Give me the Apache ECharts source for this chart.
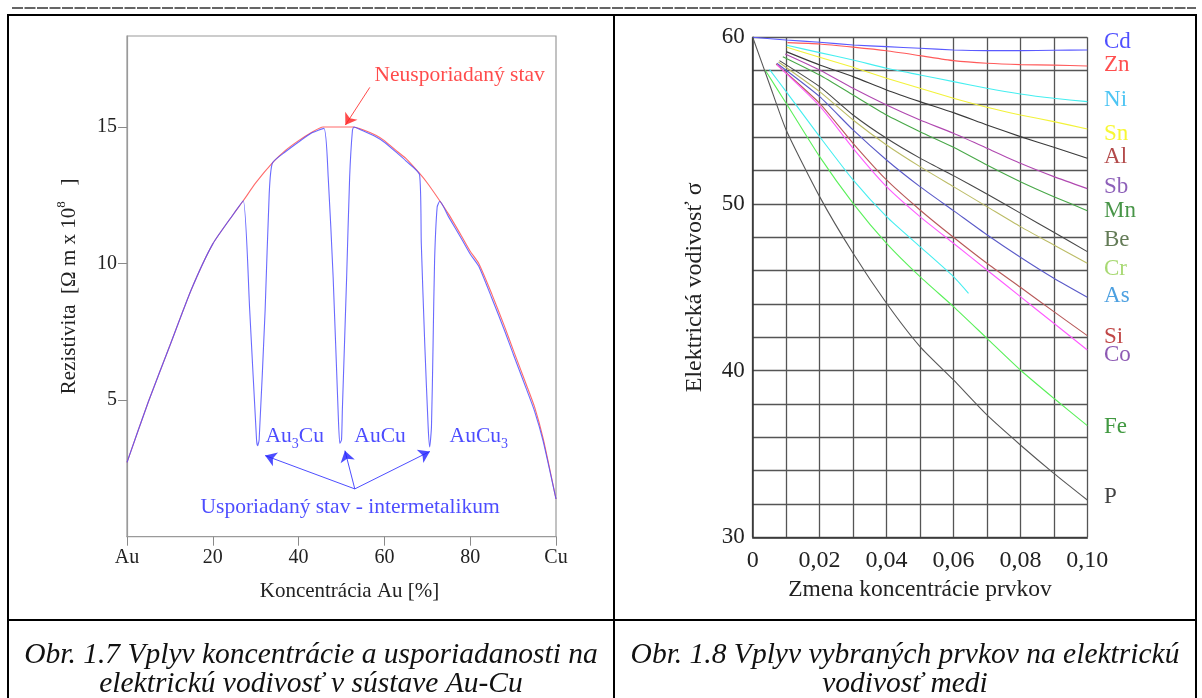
<!DOCTYPE html>
<html>
<head>
<meta charset="utf-8">
<script src="https://cdn.jsdelivr.net/npm/echarts@6/dist/echarts.min.js"></script>
<style>
  html, body { margin: 0; padding: 0; background: #fff; }
  #chart { width: 1202px; height: 698px; }
</style>
</head>
<body>
<div id="chart"></div>
<script>
// ---------- Fig. 1.7: resistivity of Au-Cu alloys ----------
// x = Au concentration [%], y = resistivity
const auCuTicks = [0, 20, 40, 60, 80, 100];
const auCuTickNames = { 0: 'Au', 100: 'Cu' };
const disordered = [
  [0, 2.72], [5, 4.95], [10, 7.0], [15, 9.05], [20, 10.72], [25, 11.85], [27.1, 12.3],
  [30, 12.95], [34, 13.7], [37, 14.15], [40, 14.5], [43, 14.8], [45.7, 15.0], [52.7, 15.0],
  [55, 14.9], [58, 14.7], [60, 14.5], [63, 14.1], [65, 13.85], [68.2, 13.3], [70, 12.95],
  [72.9, 12.3], [75, 11.8], [78, 11.0], [80, 10.45], [82, 10.0], [85, 8.9], [88, 7.7],
  [90, 6.85], [93, 5.6], [95, 4.75], [97, 3.6], [100, 1.38]
];
const ordered = [
  [0, 2.72], [5, 4.95], [10, 7.0], [15, 9.05], [20, 10.72], [25, 11.85], [27.1, 12.3],
  [28.6, 8.3], [30.2, 3.54], [30.45, 3.33], [30.8, 3.54], [32.2, 8.3], [33.15, 12.56], [33.9, 13.68],
  [37, 14.1], [40, 14.45], [43, 14.78], [45.9, 14.95],
  [46.9, 13.17], [48.05, 9.51], [49.2, 4.64], [49.6, 3.42], [50.0, 3.54], [50.2, 4.64],
  [51.2, 9.51], [51.9, 13.17], [52.55, 14.88], [52.9, 15.0],
  [55, 14.86], [58, 14.64], [60, 14.44], [63, 14.04], [65, 13.76], [68.2, 13.25],
  [68.6, 10.73], [69.4, 7.08], [70.2, 4.02], [70.56, 3.29], [70.97, 4.02], [71.35, 7.08],
  [71.7, 10.12], [72.3, 12.07], [72.9, 12.28], [75, 11.7], [78, 10.9], [80, 10.35], [82, 9.9],
  [85, 8.75], [88, 7.55], [90, 6.7], [93, 5.45], [95, 4.6], [97, 3.5], [100, 1.38]
];
// annotation texts placed in data coordinates: [x, y, text, align]
const redNotes = [[57.7, 16.9, 'Neusporiadaný stav']];
const blueNotes = [
  [32.3, 3.68, 'Au{sub|3}Cu'],
  [53.0, 3.68, 'AuCu'],
  [75.2, 3.68, 'AuCu{sub|3}'],
  [52.0, 1.06, 'Usporiadaný stav - intermetalikum', 'center']
];
// arrows: [fromX, fromY, toX, toY]
const redArrows = [[56.6, 16.45, 50.9, 15.07]];
const blueArrows = [
  [53.1, 1.75, 32.2, 2.97],
  [53.1, 1.75, 50.8, 3.15],
  [53.1, 1.75, 70.6, 3.12]
];

// ---------- Fig. 1.8: conductivity of copper vs. element content ----------
const cd = [[0, 60], [0.01, 59.84], [0.02, 59.7], [0.03, 59.54], [0.04, 59.44], [0.05, 59.34], [0.06, 59.24], [0.07, 59.2], [0.08, 59.2], [0.09, 59.22], [0.10, 59.24]];
const zn = [[0.0104, 59.68], [0.02, 59.6], [0.03, 59.41], [0.04, 59.19], [0.05, 58.9], [0.06, 58.6], [0.07, 58.44], [0.08, 58.36], [0.09, 58.33], [0.10, 58.28]];
const ni = [[0.0102, 59.52], [0.02, 59.08], [0.03, 58.64], [0.04, 58.14], [0.05, 57.74], [0.06, 57.34], [0.07, 56.94], [0.08, 56.6], [0.09, 56.34], [0.10, 56.14]];
const sn = [[0.0102, 59.4], [0.02, 58.8], [0.03, 58.2], [0.04, 57.54], [0.05, 56.94], [0.06, 56.34], [0.07, 55.8], [0.08, 55.34], [0.09, 54.94], [0.10, 54.5]];
const al = [[0.01, 59.14], [0.02, 58.34], [0.03, 57.64], [0.04, 56.84], [0.05, 56.14], [0.06, 55.48], [0.07, 54.74], [0.08, 54.04], [0.09, 53.4], [0.10, 52.74]];
const sb = [[0.0097, 59.0], [0.02, 58.04], [0.03, 56.94], [0.04, 55.94], [0.05, 55.04], [0.06, 54.24], [0.07, 53.34], [0.08, 52.44], [0.09, 51.64], [0.10, 50.92]];
const mn = [[0.009, 58.84], [0.02, 57.74], [0.03, 56.54], [0.04, 55.34], [0.05, 54.34], [0.06, 53.4], [0.07, 52.34], [0.08, 51.34], [0.09, 50.44], [0.10, 49.6]];
const be = [[0.008, 58.6], [0.02, 57.04], [0.03, 55.34], [0.04, 53.94], [0.05, 52.75], [0.06, 51.7], [0.07, 50.6], [0.08, 49.45], [0.09, 48.3], [0.10, 47.14]];
const cr = [[0.0077, 58.52], [0.02, 56.74], [0.03, 55.04], [0.04, 53.54], [0.05, 52.24], [0.06, 51.04], [0.07, 49.84], [0.08, 48.64], [0.09, 47.54], [0.10, 46.44]];
const as = [[0.0072, 58.44], [0.02, 56.44], [0.03, 54.44], [0.04, 52.64], [0.05, 51.04], [0.06, 49.6], [0.07, 48.15], [0.08, 46.8], [0.09, 45.54], [0.10, 44.4]];
const si = [[0.007, 58.4], [0.02, 56.04], [0.03, 53.64], [0.04, 51.44], [0.05, 49.64], [0.06, 48.0], [0.07, 46.44], [0.08, 45.0], [0.09, 43.54], [0.10, 42.1]];
const co = [[0.0072, 58.36], [0.02, 55.88], [0.03, 53.34], [0.04, 51.04], [0.05, 49.24], [0.06, 47.64], [0.07, 46.04], [0.08, 44.44], [0.09, 42.84], [0.10, 41.24]];
const shortCurve = [[0.005, 58.08], [0.01, 56.74], [0.02, 54.04], [0.03, 51.44], [0.04, 49.24], [0.05, 47.44], [0.06, 45.64], [0.0645, 44.64]];
const fe = [[0.0037, 58.04], [0.01, 56.04], [0.02, 52.84], [0.03, 50.04], [0.04, 47.64], [0.05, 45.64], [0.06, 43.84], [0.07, 41.94], [0.08, 40.04], [0.09, 38.34], [0.10, 36.7]];
const p = [[0, 60], [0.005, 57.2], [0.01, 54.44], [0.02, 50.44], [0.03, 47.04], [0.04, 44.04], [0.05, 41.44], [0.06, 39.44], [0.07, 37.34], [0.08, 35.54], [0.09, 33.84], [0.10, 32.24]];

const curves = [
  ['Cd', cd, '#5a5aff'], ['Zn', zn, '#ff5a5a'], ['Ni', ni, '#45eef0'], ['Sn', sn, '#f2f23a'],
  ['Al', al, '#3a3a3a'], ['Sb', sb, '#b048b0'], ['Mn', mn, '#48a848'], ['Be', be, '#484848'],
  ['Cr', cr, '#bcbc66'], ['As', as, '#5a5ac8'], ['Si', si, '#b85a5a'], ['Co', co, '#ff5aff'],
  ['', shortCurve, '#45eef0'], ['Fe', fe, '#5af05a'], ['P', p, '#585858']
];
// element names at the right edge: [name, y, colour]
const elementLabels = [
  ['Cd', 59.75, '#2323ff'], ['Zn', 58.35, '#ff2323'], ['Ni', 56.26, '#22b6f0'], ['Sn', 54.21, '#f5f500'],
  ['Al', 52.81, '#a01e1e'], ['Sb', 51.05, '#7038a8'], ['Mn', 49.56, '#1a7a1a'], ['Be', 47.83, '#3c5a2c'],
  ['Cr', 46.11, '#92d050'], ['As', 44.5, '#2088d8'], ['Si', 42.05, '#b01818'], ['Co', 40.92, '#7030a0'],
  ['Fe', 36.6, '#128012'], ['P', 32.4, '#111111']
];

const serif = "'Liberation Serif', 'Times New Roman', serif";

function noteSeries(notes, color, arrows, size) {
  return {
    type: 'scatter', xAxisIndex: 0, yAxisIndex: 0, symbolSize: 0, silent: true, clip: false,
    data: notes.map(n => ({
      value: [n[0], n[1]],
      label: {
        show: true, position: 'inside', align: n[3] || 'left', verticalAlign: 'middle',
        formatter: n[2], color: color, fontFamily: serif, fontSize: size,
        rich: {
          sub: { fontSize: 14, verticalAlign: 'bottom', lineHeight: 30, color: color, fontFamily: serif }
        }
      }
    })),
    markLine: {
      silent: true, animation: false,
      symbol: ['none', 'arrow'], symbolSize: 11,
      label: { show: false },
      lineStyle: { color: color, width: 1, type: 'solid', opacity: 0.8 },
      data: arrows.map(a => [{ coord: [a[0], a[1]] }, { coord: [a[2], a[3]] }])
    }
  };
}

const chart = echarts.init(document.getElementById('chart'), null, { renderer: 'canvas' });

const option = {
  animation: false,
  backgroundColor: '#fff',
  textStyle: { fontFamily: serif },
  grid: [
    { left: 127, top: 36, width: 429, height: 500.7, show: true, borderColor: '#9a9a9a', borderWidth: 1.2, backgroundColor: 'transparent' },
    { left: 752.7, top: 37.3, width: 334.6, height: 500, show: false }
  ],
  xAxis: [
    {
      gridIndex: 0, type: 'value', min: 0, max: 100, interval: 20,
      name: 'Koncentrácia Au [%]', nameLocation: 'middle', nameGap: 44,
      nameTextStyle: { fontSize: 21, color: '#222', fontFamily: serif, padding: [0, 0, 0, 16] },
      axisLine: { show: true, lineStyle: { color: '#9a9a9a', width: 1.2 } },
      axisTick: { show: true, inside: false, length: 9, lineStyle: { color: '#8a8a8a' } },
      splitLine: { show: false },
      axisLabel: {
        margin: 11, fontSize: 20, color: '#222', fontFamily: serif,
        formatter: v => auCuTickNames[v] !== undefined ? auCuTickNames[v] : String(v)
      }
    },
    {
      gridIndex: 1, type: 'value', min: 0, max: 0.1, interval: 0.01,
      name: 'Zmena koncentrácie prvkov', nameLocation: 'middle', nameGap: 41,
      nameTextStyle: { fontSize: 23.5, color: '#222', fontFamily: serif },
      axisLine: { show: true, lineStyle: { color: '#333', width: 1.5 } },
      axisTick: { show: false },
      splitLine: { show: true, lineStyle: { color: '#555', width: 1.3 } },
      axisLabel: {
        margin: 11, fontSize: 24, color: '#222', fontFamily: serif, showMaxLabel: true,
        formatter: v => {
          const k = Math.round(v * 100);
          if (k % 2 !== 0) return '';
          return k === 0 ? '0' : (k / 100).toFixed(2).replace('.', ',');
        }
      }
    }
  ],
  yAxis: [
    {
      gridIndex: 0, type: 'value', min: 0, max: 18.33, interval: 5,
      name: 'Rezistivita  [Ω m x 10{sup|8}   ]', nameLocation: 'middle', nameGap: 44,
      nameTextStyle: {
        fontSize: 21, color: '#222', fontFamily: serif, lineHeight: 28,
        rich: { sup: { fontSize: 13, verticalAlign: 'top', lineHeight: 28, color: '#222', fontFamily: serif } }
      },
      axisLine: { show: true, lineStyle: { color: '#9a9a9a', width: 1.2 } },
      axisTick: { show: true, inside: false, length: 9, customValues: [5, 10, 15], lineStyle: { color: '#8a8a8a' } },
      splitLine: { show: false },
      axisLabel: { margin: 10, fontSize: 20, color: '#222', fontFamily: serif, customValues: [5, 10, 15] }
    },
    {
      gridIndex: 1, type: 'value', min: 30, max: 60, interval: 2,
      name: 'Elektrická vodivosť σ', nameLocation: 'middle', nameGap: 46,
      nameTextStyle: { fontSize: 24, color: '#222', fontFamily: serif },
      axisLine: { show: true, lineStyle: { color: '#333', width: 1.5 } },
      axisTick: { show: false },
      splitLine: { show: true, lineStyle: { color: '#555', width: 1.3 } },
      axisLabel: {
        margin: 8, fontSize: 23, color: '#222', fontFamily: serif,
        formatter: v => (Math.round(v) % 10 === 0 ? String(Math.round(v)) : '')
      }
    }
  ],
  series: [
    {
      type: 'line', xAxisIndex: 0, yAxisIndex: 0, data: disordered, showSymbol: false,
      smooth: 0.2, silent: true,
      lineStyle: { color: '#ff5050', width: 1.1, opacity: 0.85 }
    },
    {
      type: 'line', xAxisIndex: 0, yAxisIndex: 0, data: ordered, showSymbol: false,
      smooth: 0.2, silent: true,
      lineStyle: { color: '#5050ff', width: 1.1, opacity: 0.85 }
    },
    noteSeries(redNotes, '#ff1e1e', redArrows, 21.5),
    noteSeries(blueNotes, '#2020ff', blueArrows, 21.5),
    ...curves.map(c => ({
      name: c[0], type: 'line', xAxisIndex: 1, yAxisIndex: 1, data: c[1], showSymbol: false,
      smooth: 0.2, silent: true, z: 3,
      lineStyle: { color: c[2], width: 1.1 }
    })),
    {
      type: 'scatter', xAxisIndex: 1, yAxisIndex: 1, symbolSize: 0, clip: false, silent: true,
      data: elementLabels.map(e => ({
        value: [0.105, e[1]],
        label: {
          show: true, position: 'inside', align: 'left', verticalAlign: 'middle',
          formatter: e[0], color: e[2], fontSize: 23, fontFamily: serif
        }
      }))
    }
  ],
  graphic: [
    { type: 'line', silent: true, shape: { x1: 12, y1: 8, x2: 1196, y2: 8 }, style: { stroke: '#333', lineWidth: 1.5, lineDash: [11, 1.5] } },
    { type: 'line', silent: true, shape: { x1: 7, y1: 15, x2: 1197, y2: 15 }, style: { stroke: '#000', lineWidth: 2 } },
    { type: 'line', silent: true, shape: { x1: 8, y1: 14, x2: 8, y2: 698 }, style: { stroke: '#000', lineWidth: 2 } },
    { type: 'line', silent: true, shape: { x1: 614, y1: 14, x2: 614, y2: 698 }, style: { stroke: '#000', lineWidth: 2 } },
    { type: 'line', silent: true, shape: { x1: 1196, y1: 14, x2: 1196, y2: 698 }, style: { stroke: '#000', lineWidth: 2 } },
    { type: 'line', silent: true, shape: { x1: 7, y1: 620, x2: 1197, y2: 620 }, style: { stroke: '#000', lineWidth: 2 } },
    { type: 'text', silent: true, style: { text: 'Obr. 1.7 Vplyv koncentrácie a usporiadanosti na', x: 311, y: 655, textAlign: 'center', textVerticalAlign: 'middle', font: "italic 29.5px 'Liberation Serif'", fill: '#111' } },
    { type: 'text', silent: true, style: { text: 'elektrickú vodivosť v sústave Au-Cu', x: 311, y: 684, textAlign: 'center', textVerticalAlign: 'middle', font: "italic 29.5px 'Liberation Serif'", fill: '#111' } },
    { type: 'text', silent: true, style: { text: 'Obr. 1.8 Vplyv vybraných prvkov na elektrickú', x: 905, y: 655, textAlign: 'center', textVerticalAlign: 'middle', font: "italic 29.5px 'Liberation Serif'", fill: '#111' } },
    { type: 'text', silent: true, style: { text: 'vodivosť medi', x: 905, y: 684, textAlign: 'center', textVerticalAlign: 'middle', font: "italic 29.5px 'Liberation Serif'", fill: '#111' } }
  ]
};

chart.setOption(option);
</script>
</body>
</html>
